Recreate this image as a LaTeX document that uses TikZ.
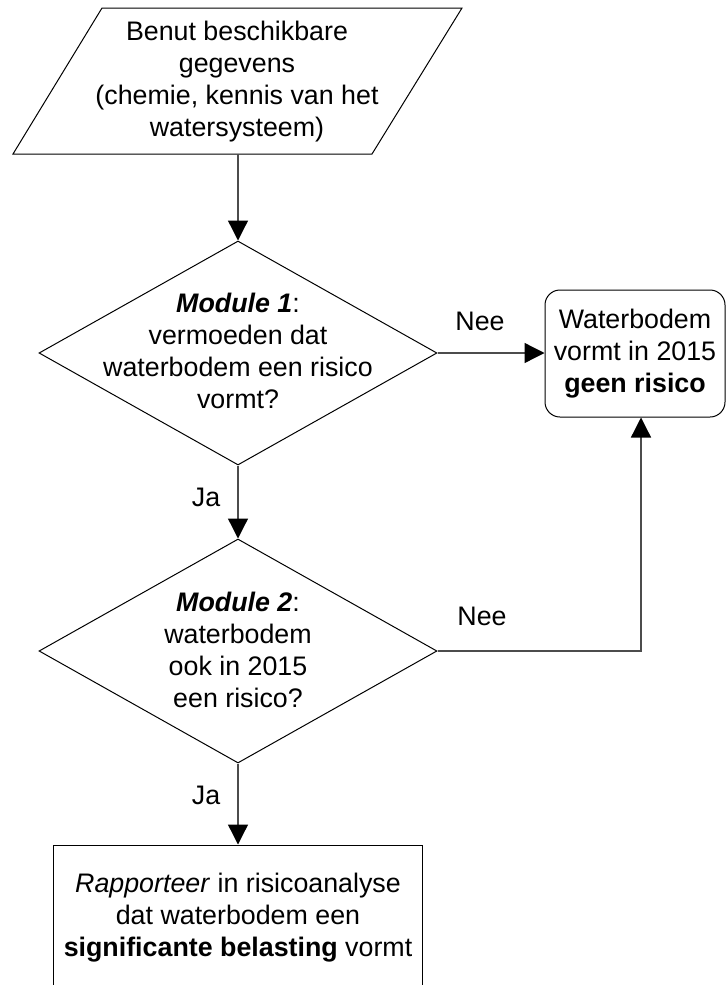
\documentclass[tikz,border=0pt]{standalone}
\usepackage{fontspec}
\setmainfont{Liberation Sans}
\usetikzlibrary{shapes.geometric,arrows.meta}

\begin{document}
\begin{tikzpicture}[x=1bp,y=-1bp,
  txt/.style={font=\fontsize{26.8bp}{32bp}\selectfont, align=center, inner sep=0pt},
  outline/.style={draw=black, line width=1bp},
  conn/.style={draw=black!70, line width=1.3bp},
  arr/.style={conn, -{Triangle[length=20bp,width=20bp,color=black]}},
  decision/.style={diamond, outline, minimum width=398bp, minimum height=224bp,
                   inner sep=0pt, aspect=1.78},
  endbox/.style={rectangle, rounded corners=15bp, outline, minimum width=180bp,
                 minimum height=127bp, txt},
  procbox/.style={rectangle, outline, minimum width=368bp, minimum height=146bp, txt},
  lbl/.style={txt}
]
\useasboundingbox (0,0) rectangle (727,985);
\clip (0,0) rectangle (727,985);

% input: available data
\coordinate (p1) at (102,8);
\coordinate (p2) at (462,8);
\coordinate (p3) at (372,154);
\coordinate (p4) at (13,154);
\draw[outline] (p1) -- (p2) -- (p3) -- (p4) -- cycle;
\node[txt] (inp) at (237,82) {Benut beschikbare\\gegevens\\(chemie, kennis van het\\watersysteem)};
\coordinate (pout) at (238,154);

% module 1
\node[decision] (d1) at (238,353) {};
\node[txt] (d1t) at (238,351) {\textbf{\textit{Module 1}}:\\vermoeden dat\\waterbodem een risico\\vormt?};

% end state: no risk
\node[endbox] (ok) at (635,353.5) {Waterbodem\\vormt in 2015\\\textbf{geen risico}};

% module 2
\node[decision] (d2) at (238,651) {};
\node[txt] (d2t) at (238,650) {\textbf{\textit{Module 2}}:\\waterbodem\\ook in 2015\\een risico?};

% report
\node[procbox] (rep) at (238,918) {\textit{Rapporteer} in risicoanalyse\\dat waterbodem een\\\textbf{significante belasting} vormt};

% connectors
\draw[arr] (pout) -- (d1.north);
\draw[arr] (d1.east) -- (d1.east -| ok.west);
\draw[arr] (d1.south) -- (d2.north);
\coordinate (up) at ([xshift=6bp]ok.south);
\draw[arr] (d2.east) -| (up);
\draw[arr] (d2.south) -- (rep.north);

% branch labels
\node[lbl] (nee1) at (480,321) {Nee};
\node[lbl] (ja1) at (206,497) {Ja};
\node[lbl] (nee2) at (482,616) {Nee};
\node[lbl] (ja2) at (206,795) {Ja};
\end{tikzpicture}
\end{document}
